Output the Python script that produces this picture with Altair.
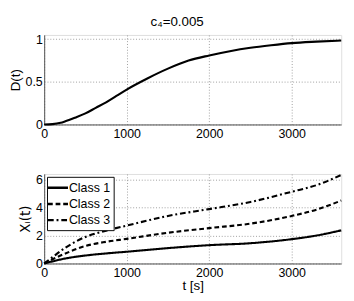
import altair as alt
import pandas as pd

t_d = [0, 100, 200, 250, 375, 500, 625, 750, 875, 1000, 1250, 1500, 1750, 2000, 2250, 2500, 2750, 3000, 3300, 3600]
d_vals = [0, 0.004, 0.02, 0.035, 0.08, 0.13, 0.195, 0.26, 0.335, 0.41, 0.54, 0.655, 0.75, 0.81, 0.86, 0.9, 0.93, 0.955, 0.972, 0.985]

t_x = [0, 100, 250, 500, 750, 1000, 1500, 2000, 2500, 3000, 3300, 3600]
class1 = [0, 0.15, 0.35, 0.57, 0.72, 0.84, 1.1, 1.31, 1.45, 1.74, 2.0, 2.37]
class2 = [0, 0.3, 0.7, 1.25, 1.55, 1.76, 2.2, 2.53, 2.85, 3.4, 3.85, 4.5]
class3 = [0, 0.45, 1.1, 1.9, 2.35, 2.71, 3.4, 3.89, 4.4, 5.13, 5.6, 6.33]
classes = ["Class 1", "Class 2", "Class 3"]

FONT = "Liberation Sans"

df_d = pd.DataFrame({"t": t_d, "D": d_vals})
rows = []
for name, vals in zip(classes, [class1, class2, class3]):
    for t, v in zip(t_x, vals):
        rows.append({"t": t, "X": v, "cls": name})
df_x = pd.DataFrame(rows)

def xaxis(title=None):
    kw = dict(values=[0, 1000, 2000, 3000], format="d", grid=True, gridDash=[1, 2], gridColor="#999",
              ticks=False, labelFontSize=13, labelFont=FONT, labelColor="black",
              domainColor="#555", labelPadding=4, labelFlush=False)
    if title:
        return alt.Axis(title=title, titleFont=FONT, titleFontSize=14, titleFontWeight="normal",
                        titlePadding=-1, **kw)
    return alt.Axis(title=None, **kw)

def yaxis(title, values, font=FONT):
    return alt.Axis(title=title, values=values, format="~g", grid=True, gridDash=[1, 2], gridColor="#999",
                    ticks=False, labelFontSize=13, labelFont=FONT, labelColor="black",
                    domainColor="#555", labelPadding=2, titleFont=font, titleFontSize=14,
                    titleFontWeight="normal", titlePadding=3)

top = alt.Chart(df_d).mark_line(color="black", strokeWidth=2.2, interpolate="monotone").encode(
    x=alt.X("t:Q", scale=alt.Scale(domain=[0, 3600], nice=False), axis=xaxis()),
    y=alt.Y("D:Q", scale=alt.Scale(domain=[0, 1.05], nice=False), axis=yaxis("D(t)", [0, 0.5, 1])),
).properties(width=312, height=94)

bottom = alt.Chart(df_x).mark_line(color="black", strokeWidth=2.2, interpolate="monotone").encode(
    x=alt.X("t:Q", scale=alt.Scale(domain=[0, 3600], nice=False), axis=xaxis("t [s]")),
    y=alt.Y("X:Q", scale=alt.Scale(domain=[0, 6.4], nice=False),
            axis=yaxis("Xᵢ(t)", [0, 2, 4, 6], font="DejaVu Sans")),
    strokeDash=alt.StrokeDash("cls:N", scale=alt.Scale(domain=classes, range=[[1, 0], [5, 3], [6, 3, 2, 3]]),
                              legend=alt.Legend(title=None, orient="top-left", offset=3,
                                                symbolType="M-1.5,0L1.5,0", symbolSize=196,
                                                symbolStrokeWidth=2.5, symbolStrokeColor="black",
                                                labelFont=FONT, labelFontSize=13, labelColor="black",
                                                strokeColor="black", fillColor="white",
                                                padding=3, rowPadding=1, labelOffset=3)),
).properties(width=312, height=94)

chart = alt.vconcat(top, bottom, spacing=30).resolve_legend(strokeDash="independent").resolve_scale(
    strokeDash="independent"
).properties(
    title=alt.TitleParams("c₄=0.005", font=FONT, fontSize=14, fontWeight="normal", anchor="middle", offset=4),
    padding={"left": 0, "top": 0, "right": 0, "bottom": 0},
).configure_view(stroke="#555").configure(background="white")

chart.save("out.html", embed_options={"renderer": "svg", "actions": False})
